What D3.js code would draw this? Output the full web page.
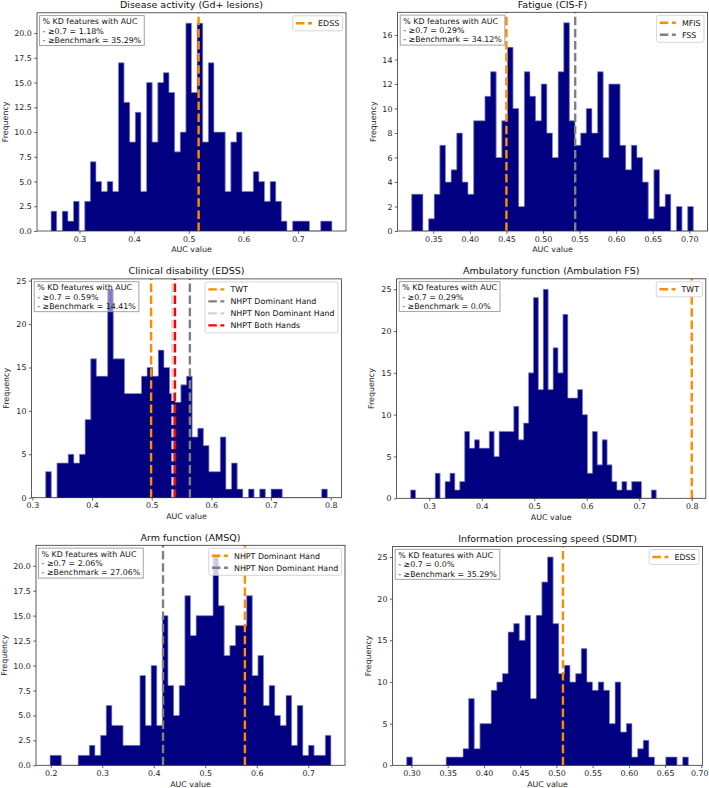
<!DOCTYPE html>
<html>
<head>
<meta charset="utf-8">
<script src="https://cdn.jsdelivr.net/npm/d3@7"></script>
<style>
  body { margin: 0; background: #fff; }
  svg text { font-family: "DejaVu Sans", sans-serif; }
</style>
</head>
<body>
<div id="vis"></div>
<script>
// ---------- data ----------

const TITLES = ["Disease activity (Gd+ lesions)", "Fatigue (CIS-F)",
                "Clinical disability (EDSS)", "Ambulatory function (Ambulation FS)",
                "Arm function (AMSQ)", "Information processing speed (SDMT)"];

// histogram counts, 50 bins between min and max AUC
const COUNTS_GD   = [2,0,2,1,3,0,3,7,5,4,5,4,17,13,9,12,4,15,9,15,16,14,8,10,21,14,21,9,17,10,
                     10,4,9,10,4,4,6,5,3,5,3,1,0,1,1,1,0,0,1,1];
const COUNTS_CISF = [3,3,0,1,3,7,4,5,8,4,3,9,9,11,13,6,9,15,10,2,13,11,9,12,8,6,13,17,9,7,
                     8,10,8,13,6,12,12,7,5,7,6,4,1,5,2,3,0,2,0,2];
const COUNTS_EDSS = [3,0,4,4,5,4,5,9,16,14,14,24,16,16,12,12,12,14,15,14,17,15,12,11,13,14,7,8,6,3,
                     3,7,1,4,1,0,1,0,1,0,1,1,0,0,0,0,0,0,0,1];
const COUNTS_AMB  = [1,0,0,0,0,3,0,2,3,1,2,8,6,7,6,6,8,5,8,8,8,11,7,9,15,24,13,25,13,18,
                     15,22,12,12,13,10,3,8,4,7,4,2,1,2,1,2,2,0,0,1];
const COUNTS_AMSQ = [1,1,0,0,0,1,1,2,1,3,6,4,4,2,2,2,9,4,10,4,15,8,5,8,17,13,15,15,15,21,
                     16,11,12,14,14,17,9,11,6,8,5,4,7,2,6,1,2,1,1,3];
const COUNTS_SDMT = [1,0,0,0,0,0,0,1,1,1,2,8,2,5,5,9,10,11,16,17,15,18,8,18,22,25,17,11,12,10,
                     11,14,10,9,10,9,5,10,4,5,1,2,3,1,0,0,1,1,0,1];

// min / max AUC value of each histogram
const RANGE_GD   = [0.248, 0.762];
const RANGE_CISF = [0.3205, 0.7055];
const RANGE_EDSS = [0.3223, 0.7944];
const RANGE_AMB  = [0.2646, 0.7324];
const RANGE_AMSQ = [0.1986, 0.7441];
const RANGE_SDMT = [0.2934, 0.682];

// benchmark reference lines
const REF_LABELS = [["EDSS"], ["MFIS", "FSS"],
                    ["TWT", "NHPT Dominant Hand", "NHPT Non Dominant Hand", "NHPT Both Hands"],
                    ["TWT"], ["NHPT Dominant Hand", "NHPT Non Dominant Hand"], ["EDSS"]];
const REF_VALUES = [[0.518], [0.450, 0.544], [0.499, 0.564, 0.535, 0.539],
                    [0.800], [0.577, 0.418], [0.509]];

// text box values
const PCT_07    = ["1.18%", "0.29%", "0.59%", "0.29%", "2.06%", "0.0%"];
const PCT_BENCH = ["35.29%", "34.12%", "14.41%", "0.0%", "27.06%", "35.29%"];

// tick labels
const X_TICKS = [[0.3, 0.4, 0.5, 0.6, 0.7],
                 [0.35, 0.40, 0.45, 0.50, 0.55, 0.60, 0.65, 0.70],
                 [0.3, 0.4, 0.5, 0.6, 0.7, 0.8],
                 [0.3, 0.4, 0.5, 0.6, 0.7, 0.8],
                 [0.2, 0.3, 0.4, 0.5, 0.6, 0.7],
                 [0.30, 0.35, 0.40, 0.45, 0.50, 0.55, 0.60, 0.65, 0.70]];
const Y_TICKS = [[0, 2.5, 5, 7.5, 10, 12.5, 15, 17.5, 20],
                 [0, 2, 4, 6, 8, 10, 12, 14, 16],
                 [0, 5, 10, 15, 20, 25],
                 [0, 5, 10, 15, 20, 25],
                 [0, 2.5, 5, 7.5, 10, 12.5, 15, 17.5, 20],
                 [0, 5, 10, 15, 20, 25]];

const COUNTS = [COUNTS_GD, COUNTS_CISF, COUNTS_EDSS, COUNTS_AMB, COUNTS_AMSQ, COUNTS_SDMT];
const RANGES = [RANGE_GD, RANGE_CISF, RANGE_EDSS, RANGE_AMB, RANGE_AMSQ, RANGE_SDMT];

// ---------- layout / style ----------

const FRAME_WIDTH = 709;
const FRAME_HEIGHT = 788;

// axes boxes (spines) in pixels
const LAYOUT = [
  {left: 37,    right: 346,   top: 12.8,  bottom: 231,   ylabX: 5,   xf: ".1f", yf: ".1f"},
  {left: 397.6, right: 707.4, top: 12.3,  bottom: 231,   ylabX: 373, xf: ".2f", yf: "d"},
  {left: 31.6,  right: 341.4, top: 278.9, bottom: 497.7, ylabX: 6,   xf: ".1f", yf: "d"},
  {left: 396.6, right: 705.8, top: 278.8, bottom: 498.3, ylabX: 371, xf: ".1f", yf: "d"},
  {left: 36,    right: 345,   top: 545.3, bottom: 765.3, ylabX: 4,   xf: ".1f", yf: ".1f"},
  {left: 392.6, right: 702.4, top: 546.5, bottom: 765.3, ylabX: 368, xf: ".2f", yf: "d"}
];

const LINE_COLORS = ["#ff8c00", "#808080", "#d3d3d3", "#ff0000"];
const BAR_COLOR = "#000080";
const FS = 7.9;       // tick / label / legend font size
const TITLE_FS = 9.5;
const DASH = "8.5,3.6";

const FRAME = d3.select("#vis")
                .append("svg")
                  .attr("width", FRAME_WIDTH)
                  .attr("height", FRAME_HEIGHT);

// builds one histogram panel
function build_histogram(i) {

  const L = LAYOUT[i];
  const counts = COUNTS[i];
  const lo = RANGES[i][0], hi = RANGES[i][1];
  const refs = REF_VALUES[i];

  // x limits include the reference lines, with 5% margin like matplotlib
  const xlo = Math.min(lo, d3.min(refs));
  const xhi = Math.max(hi, d3.max(refs));
  const pad = 0.05 * (xhi - xlo);

  const X_SCALE = d3.scaleLinear()
                    .domain([xlo - pad, xhi + pad])
                    .range([L.left, L.right]);

  const Y_SCALE = d3.scaleLinear()
                    .domain([0, d3.max(counts) * 1.05])
                    .range([L.bottom, L.top]);

  const binW = (hi - lo) / counts.length;
  const bins = counts.map((c, j) => ({x0: lo + j * binW, x1: lo + (j + 1) * binW, count: c}));

  const g = FRAME.append("g");

  // silhouette of the histogram (fills the seams between bars)
  const pts = [[X_SCALE(lo), Y_SCALE(0)]];
  bins.forEach(d => {
    pts.push([X_SCALE(d.x0), Y_SCALE(d.count)]);
    pts.push([X_SCALE(d.x1), Y_SCALE(d.count)]);
  });
  pts.push([X_SCALE(hi), Y_SCALE(0)]);
  g.append("path")
    .attr("d", d3.line()(pts) + "Z")
    .attr("fill", BAR_COLOR)
    .attr("stroke", "none");

  // bars
  g.selectAll("rect.bar")
    .data(bins.filter(d => d.count > 0))
    .enter()
    .append("rect")
      .attr("class", "bar")
      .attr("x", d => X_SCALE(d.x0))
      .attr("width", d => X_SCALE(d.x1) - X_SCALE(d.x0))
      .attr("y", d => Y_SCALE(d.count))
      .attr("height", d => Y_SCALE(0) - Y_SCALE(d.count))
      .attr("fill", BAR_COLOR);

  // light outline around the silhouette
  g.append("path")
    .attr("d", d3.line()(pts))
    .attr("fill", "none")
    .attr("stroke", "#a9a9d9")
    .attr("stroke-width", 0.7);

  // reference lines (drawn bottom -> top)
  refs.forEach((v, k) => {
    g.append("path")
      .attr("d", "M" + X_SCALE(v) + "," + L.bottom + "V" + L.top)
      .attr("stroke", LINE_COLORS[k])
      .attr("stroke-width", 2.4)
      .attr("stroke-dasharray", DASH)
      .attr("fill", "none");
  });

  // axes
  const xAxis = g.append("g")
    .attr("transform", "translate(0," + L.bottom + ")")
    .call(d3.axisBottom(X_SCALE)
            .tickValues(X_TICKS[i])
            .tickFormat(d3.format(L.xf))
            .tickSize(2.8)
            .tickPadding(2.4));
  const yAxis = g.append("g")
    .attr("transform", "translate(" + L.left + ",0)")
    .call(d3.axisLeft(Y_SCALE)
            .tickValues(Y_TICKS[i])
            .tickFormat(d3.format(L.yf))
            .tickSize(2.8)
            .tickPadding(2.4));
  [xAxis, yAxis].forEach(a => {
    a.select(".domain").remove();
    a.attr("font-family", "DejaVu Sans, sans-serif").attr("font-size", FS + "px");
    a.selectAll("line").attr("stroke", "#222").attr("stroke-width", 0.7);
    a.selectAll("text").attr("fill", "#222");
  });

  // keep a tick label that touches the page edge inside the page
  xAxis.selectAll(".tick text").each(function() {
    const b = this.getBBox();
    const t = d3.select(this.parentNode).attr("transform");
    const tx = +t.match(/translate\(([-\d.]+)/)[1];
    const over = tx + b.x + b.width - (FRAME_WIDTH - 0.5);
    if (over > 0) d3.select(this).attr("dx", -over);
  });

  // spines
  g.append("rect")
    .attr("x", L.left)
    .attr("y", L.top)
    .attr("width", L.right - L.left)
    .attr("height", L.bottom - L.top)
    .attr("fill", "none")
    .attr("stroke", "#333")
    .attr("stroke-width", 0.8);

  // title and axis labels
  g.append("text")
    .attr("x", (L.left + L.right) / 2)
    .attr("y", L.top - 4.6)
    .attr("text-anchor", "middle")
    .attr("font-size", TITLE_FS + "px")
    .attr("fill", "#111")
    .text(TITLES[i]);

  g.append("text")
    .attr("x", (L.left + L.right) / 2)
    .attr("y", L.bottom + 21.3)
    .attr("text-anchor", "middle")
    .attr("font-size", FS + "px")
    .attr("fill", "#222")
    .text("AUC value");

  g.append("text")
    .attr("transform", "translate(" + (L.ylabX + 2.8) + "," + ((L.top + L.bottom) / 2) + ") rotate(-90)")
    .attr("text-anchor", "middle")
    .attr("font-size", FS + "px")
    .attr("fill", "#222")
    .text("Frequency");

  // stats text box, upper left
  const lines = ["% KD features with AUC",
                 "- \u22650.7 = " + PCT_07[i],
                 "- \u2265Benchmark = " + PCT_BENCH[i]];
  const tb = g.append("g")
    .attr("transform", "translate(" + (L.left + 2.6) + "," + (L.top + 2.8) + ")");
  const tbRect = tb.append("rect")
    .attr("fill", "#fff")
    .attr("fill-opacity", 0.5)
    .attr("stroke", "#999")
    .attr("stroke-width", 0.9);
  let tbW = 0;
  lines.forEach((t, k) => {
    const tx = tb.append("text")
      .attr("x", 3)
      .attr("y", 8.8 + k * 9.3)
      .attr("font-size", FS + "px")
      .attr("fill", "#111")
      .text(t);
    tbW = Math.max(tbW, tx.node().getComputedTextLength());
  });
  tbRect.attr("width", tbW + 6).attr("height", 30);

  // legend, upper right
  const labels = REF_LABELS[i];
  const lg = g.append("g");
  const lgRect = lg.append("rect")
    .attr("fill", "#fff")
    .attr("fill-opacity", 0.8)
    .attr("stroke", "#ccc")
    .attr("stroke-width", 0.8)
    .attr("rx", 2);
  let lgW = 0;
  labels.forEach((t, k) => {
    const item = lg.append("g").attr("transform", "translate(0," + (7.5 + 12 * k) + ")");
    item.append("path")
      .attr("d", "M3.2,0H19.2")
      .attr("stroke", LINE_COLORS[k])
      .attr("stroke-width", 2.4)
      .attr("stroke-dasharray", DASH);
    const tx = item.append("text")
      .attr("x", 25.3)
      .attr("y", 2.9)
      .attr("font-size", FS + "px")
      .attr("fill", "#111")
      .text(t);
    lgW = Math.max(lgW, tx.node().getComputedTextLength());
  });
  const boxW = 25.3 + lgW + 3.4;
  lgRect.attr("width", boxW).attr("height", 3 + 12 * labels.length);
  lg.attr("transform", "translate(" + (L.right - 3.4 - boxW) + "," + (L.top + 3) + ")");
}

// builds all six panels
for (let i = 0; i < TITLES.length; i++) {
  build_histogram(i);
}
</script>
</body>
</html>
